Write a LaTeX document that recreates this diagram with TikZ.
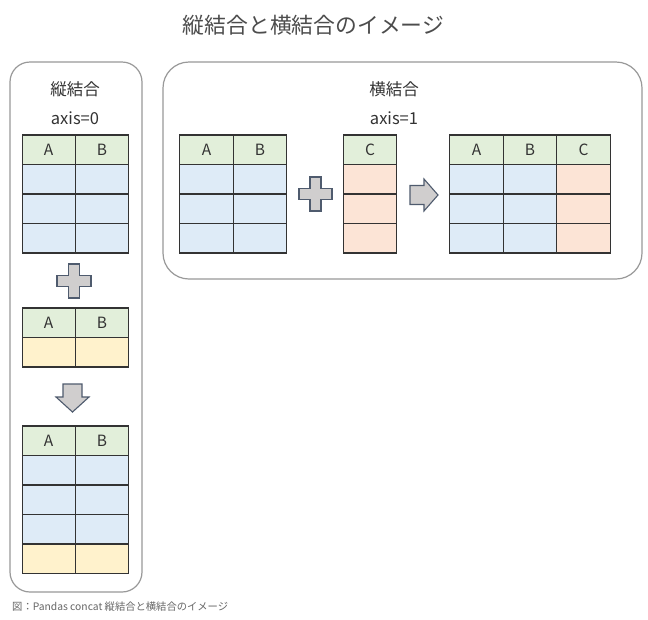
\documentclass[tikz,border=0pt]{standalone}
\usepackage{fontspec}
\newfontfamily\jp{Noto Sans CJK JP}
\usetikzlibrary{positioning,calc}
\definecolor{hdr}{HTML}{E2EFDA}
\definecolor{bluec}{HTML}{DEEBF7}
\definecolor{yelc}{HTML}{FFF2CC}
\definecolor{peach}{HTML}{FCE4D6}
\definecolor{symfill}{HTML}{D0CECE}
\definecolor{symline}{HTML}{4F5B6E}
\definecolor{txt}{HTML}{333333}
\tikzset{
  cellbox/.style={draw=black!80, line width=1.1pt, inner sep=0pt, minimum width=53.3pt, minimum height=29.5pt, font=\jp\fontsize{15.5}{15.5}\selectfont, text=txt},
  hcell/.style={cellbox, fill=hdr},
  bcell/.style={cellbox, fill=bluec},
  ycell/.style={cellbox, fill=yelc},
  pcell/.style={cellbox, fill=peach},
  panel/.style={draw=black!40, line width=1.2pt},
  lbl/.style={font=\jp\fontsize{16.5}{16.5}\selectfont, text=txt, inner sep=0pt},
  sym/.style={draw=symline, fill=symfill, line width=1.1pt, line join=miter},
}
\begin{document}
\begin{tikzpicture}[x=1pt,y=-1pt]
\useasboundingbox (0,0) rectangle (648,619);
\fill[white] (0,0) rectangle (648,619);

% title
\node[font=\jp\fontsize{21.8}{21.8}\selectfont, text=black!70, inner sep=0pt] (title) at (313.5,25) {縦結合と横結合のイメージ};

% panels
\draw[panel, rounded corners=20pt] (10,62) rectangle (142,592);
\draw[panel, rounded corners=26pt] (163,62) rectangle (642,279);

\node[lbl] (lt) at (75,89) {縦結合};
\node[lbl] (la) at (75,118) {axis=0};
\node[lbl] (rt) at (394,89) {横結合};
\node[lbl] (ra) at (394,118) {axis=1};

% left table 1
\node[hcell] (l1a0) at (48.7,149.75) {A};
\node[hcell] (l1b0) at (102,149.75) {B};
\foreach \r/\y in {1/179.25,2/208.75,3/238.25}{
  \node[bcell] (l1a\r) at (48.7,\y) {};
  \node[bcell] (l1b\r) at (102,\y) {};
}
% plus left
\coordinate (pl) at (74,281);
\draw[sym] ($(pl)+(-5.5,-17)$) -- ++(11,0) -- ++(0,11.5) -- ++(11.5,0) -- ++(0,11) -- ++(-11.5,0) -- ++(0,11.5) -- ++(-11,0) -- ++(0,-11.5) -- ++(-11.5,0) -- ++(0,-11) -- ++(11.5,0) -- cycle;

% left table 2
\node[hcell] (l2a0) at (48.7,322.75) {A};
\node[hcell] (l2b0) at (102,322.75) {B};
\node[ycell] (l2a1) at (48.7,352.25) {};
\node[ycell] (l2b1) at (102,352.25) {};

% down arrow
\coordinate (da) at (72.5,384);
\draw[sym] ($(da)+(-9.5,0)$) -- ++(19,0) -- ++(0,13) -- ++(7,0) -- ($(da)+(0,28)$) -- ($(da)+(-16.5,13)$) -- ++(7,0) -- cycle;

% left table 3
\node[hcell] (l3a0) at (48.7,440.75) {A};
\node[hcell] (l3b0) at (102,440.75) {B};
\foreach \r/\y in {1/470.25,2/499.75,3/529.25}{
  \node[bcell] (l3a\r) at (48.7,\y) {};
  \node[bcell] (l3b\r) at (102,\y) {};
}
\node[ycell] (l3a4) at (48.7,558.75) {};
\node[ycell] (l3b4) at (102,558.75) {};

% right table 1
\node[hcell] (r1a0) at (206.5,149.75) {A};
\node[hcell] (r1b0) at (260,149.75) {B};
\foreach \r/\y in {1/179.25,2/208.75,3/238.25}{
  \node[bcell] (r1a\r) at (206.5,\y) {};
  \node[bcell] (r1b\r) at (260,\y) {};
}

% plus right
\coordinate (pr) at (315.5,194);
\draw[sym] ($(pr)+(-5.5,-17)$) -- ++(11,0) -- ++(0,11.5) -- ++(11,0) -- ++(0,11) -- ++(-11,0) -- ++(0,11.5) -- ++(-11,0) -- ++(0,-11.5) -- ++(-11,0) -- ++(0,-11) -- ++(11,0) -- cycle;

% C table
\node[hcell] (c0) at (370,149.75) {C};
\foreach \r/\y in {1/179.25,2/208.75,3/238.25}{
  \node[pcell] (c\r) at (370,\y) {};
}

% right arrow
\coordinate (ar) at (410,195);
\draw[sym] ($(ar)+(0,-9.5)$) -- ++(14,0) -- ++(0,-6.5) -- ($(ar)+(28,0)$) -- ($(ar)+(14,16)$) -- ++(0,-6.5) -- ++(-14,0) -- cycle;

% result table
\node[hcell] (r2a0) at (476.5,149.75) {A};
\node[hcell] (r2b0) at (530,149.75) {B};
\node[hcell] (r2c0) at (583.5,149.75) {C};
\foreach \r/\y in {1/179.25,2/208.75,3/238.25}{
  \node[bcell] (r2a\r) at (476.5,\y) {};
  \node[bcell] (r2b\r) at (530,\y) {};
  \node[pcell] (r2c\r) at (583.5,\y) {};
}

% caption
\node[font=\jp\fontsize{10.3}{10.3}\selectfont, text=black!60, anchor=west, inner sep=0pt] (cap) at (12,607) {図：Pandas concat 縦結合と横結合のイメージ};
\end{tikzpicture}
\end{document}
